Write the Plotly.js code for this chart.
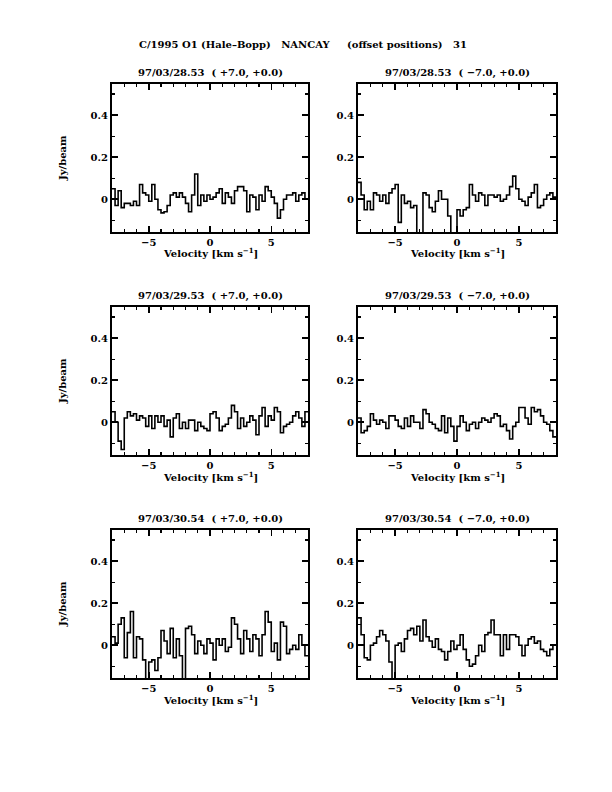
<!DOCTYPE html>
<html>
<head>
<meta charset="utf-8">
<script src="https://cdn.plot.ly/plotly-3.0.1.min.js"></script>
<style>html,body{margin:0;padding:0;background:#fff;}#chart{width:612px;height:792px;}</style>
</head>
<body>
<div id="chart"></div>
<script>
// ---- data (Jy/beam per 0.25 km/s channel, from -8 to +8 km/s) ----
const channelStart = -8;
const channelWidth = 0.25;

const mainTitle = "C/1995 O1 (Hale\u2013Bopp)\u00a0\u00a0\u00a0NANCAY\u00a0\u00a0\u00a0\u00a0\u00a0(offset positions)\u00a0\u00a0\u00a031";
const panelTitles = [
  "97/03/28.53\u00a0\u00a0( +7.0, +0.0)",
  "97/03/28.53\u00a0\u00a0( \u22127.0, +0.0)",
  "97/03/29.53\u00a0\u00a0( +7.0, +0.0)",
  "97/03/29.53\u00a0\u00a0( \u22127.0, +0.0)",
  "97/03/30.54\u00a0\u00a0( +7.0, +0.0)",
  "97/03/30.54\u00a0\u00a0( \u22127.0, +0.0)"
];

const spec2853p = [0.05,-0.03,0.04,-0.04,-0.02,-0.02,-0.03,-0.01,-0.03,0.07,0.03,0.02,-0.01,0.07,0.0,-0.05,
  -0.065,-0.06,-0.03,0.02,0.03,0.01,0.03,0.01,-0.02,-0.06,0.02,0.12,-0.03,0.02,-0.01,0.02,
  0.0,0.01,0.03,0.05,-0.02,0.03,0.01,-0.02,0.04,0.06,0.06,0.04,-0.06,0.02,0.01,-0.05,
  0.02,-0.01,0.06,0.04,0.01,-0.02,-0.09,-0.05,0.0,0.02,0.02,0.03,-0.01,0.02,0.03,0.0];
const spec2853m = [0.08,0.02,-0.05,-0.01,-0.05,0.03,0.02,-0.01,0.02,-0.02,0.03,0.05,0.07,-0.11,0.02,-0.02,
  -0.01,-0.04,-0.03,-0.16,-0.16,0.03,0.02,-0.04,-0.06,-0.01,0.04,0.0,0.0,-0.08,-0.16,-0.16,
  -0.05,-0.08,-0.05,-0.04,0.07,0.02,-0.01,0.03,0.02,-0.03,0.02,0.02,0.01,0.02,-0.01,0.0,
  0.02,0.06,0.11,0.05,0.0,-0.01,-0.03,0.01,0.03,0.07,-0.04,-0.03,0.0,0.02,0.03,0.01];
const spec2953p = [0.05,0.0,-0.09,-0.13,0.02,0.05,0.03,0.04,0.01,0.03,0.02,-0.02,0.03,-0.03,0.03,0.0,
  0.03,-0.02,0.01,-0.07,0.02,0.04,-0.03,0.0,-0.03,0.01,0.01,-0.04,0.0,-0.02,-0.03,-0.04,
  0.04,0.05,0.02,-0.04,-0.02,-0.01,0.02,0.08,0.05,-0.03,0.02,-0.02,0.0,0.03,0.01,-0.06,
  0.03,0.07,-0.02,0.03,0.01,0.07,0.05,-0.05,-0.02,-0.01,0.0,0.03,0.05,0.02,-0.02,0.05];
const spec2953m = [0.02,-0.05,-0.04,-0.02,0.04,0.01,-0.01,0.01,0.0,-0.03,0.03,0.03,0.01,-0.02,-0.03,0.02,
  -0.02,0.03,0.0,0.0,-0.03,0.06,0.04,0.0,-0.01,-0.03,-0.04,0.03,-0.05,0.02,-0.02,-0.09,
  -0.02,0.03,0.0,-0.04,-0.01,0.0,-0.03,0.0,0.02,0.01,0.0,0.02,0.04,0.03,-0.02,-0.01,
  -0.04,-0.08,-0.02,0.0,0.07,0.07,0.02,-0.01,0.07,0.05,0.06,0.03,0.0,-0.01,-0.04,-0.07];
const spec3054p = [0.04,0.01,0.1,0.13,-0.06,0.06,0.16,-0.06,0.04,0.03,-0.07,-0.16,-0.08,-0.07,-0.12,-0.06,
  0.07,0.02,-0.04,0.08,-0.06,0.03,-0.05,-0.16,0.08,0.09,0.05,-0.04,0.02,0.0,-0.04,0.03,
  0.01,-0.07,0.03,0.0,0.03,-0.03,-0.01,0.13,0.1,0.03,-0.04,0.07,0.03,-0.03,0.05,0.03,
  -0.05,0.05,0.16,0.11,-0.03,0.01,-0.07,0.11,0.09,-0.04,-0.02,0.0,-0.02,0.05,0.0,-0.05];
const spec3054m = [0.13,0.05,-0.06,-0.07,0.0,0.01,0.04,0.07,0.05,0.02,-0.08,-0.16,0.0,0.01,-0.03,0.03,
  0.07,0.08,0.05,0.09,0.02,0.12,0.04,0.02,-0.01,0.03,-0.02,-0.03,-0.07,-0.03,0.02,-0.02,
  0.0,0.05,-0.02,-0.07,-0.10,-0.09,-0.05,0.0,-0.03,0.05,0.06,0.12,0.05,0.05,-0.05,0.05,
  -0.02,0.05,0.05,0.04,0.0,-0.05,0.0,0.03,0.04,0.01,0.02,-0.02,-0.03,-0.05,-0.02,0.0];

const spectra = [spec2853p, spec2853m, spec2953p, spec2953m, spec3054p, spec3054m];

const xTickVals = [-5, 0, 5];
const xTickText = ["\u22125", "0", "5"];
const yTickVals = [0, 0.2, 0.4];
const yTickText = ["0", "0.2", "0.4"];
const xLabel = "Velocity [km s<sup>\u22121</sup>]";
const yLabel = "Jy/beam";

// ---- layout geometry (paper fractions) ----
const W = 612, H = 792;
const colPx = [[112, 308], [358, 556]];
const rowPx = [[84, 232], [307, 455], [530, 678]];
const FONT = "DejaVu Serif, Liberation Serif, serif";
const FS = 10;

const traces = [];
const layout = {
  width: W, height: H,
  margin: {l: 0, r: 0, t: 0, b: 0},
  paper_bgcolor: "#fff", plot_bgcolor: "#fff",
  showlegend: false,
  font: {family: FONT, size: FS, color: "#000", weight: "bold"},
  annotations: []
};

layout.annotations.push({
  text: mainTitle, xref: "paper", yref: "paper", x: 303 / W, y: 1 - 44 / H,
  xanchor: "center", yanchor: "middle", showarrow: false,
  font: {family: FONT, size: FS, color: "#000", weight: "bold"}
});

spectra.forEach((vals, i) => {
  const r = Math.floor(i / 2), c = i % 2;
  const n = i + 1;
  const xs = [], ys = [];
  for (let k = 0; k <= vals.length; k++) {
    xs.push(channelStart + k * channelWidth);
    ys.push(vals[Math.min(k, vals.length - 1)]);
  }
  const xa = "x" + (n === 1 ? "" : n), ya = "y" + (n === 1 ? "" : n);
  traces.push({
    x: xs, y: ys, type: "scatter", mode: "lines",
    line: {shape: "hv", color: "#000", width: 1.6},
    xaxis: xa, yaxis: ya, hoverinfo: "skip"
  });
  const xd = [colPx[c][0] / W, colPx[c][1] / W];
  const yd = [1 - rowPx[r][1] / H, 1 - rowPx[r][0] / H];
  const axBase = {
    showline: true, linecolor: "#000", linewidth: 2, mirror: "allticks",
    ticks: "inside", ticklen: 6, tickwidth: 1.5, tickcolor: "#000",
    showgrid: false, zeroline: false, fixedrange: true,
    tickfont: {family: FONT, size: FS, color: "#000", weight: "bold"},
    minor: {ticks: "inside", ticklen: 3, tickwidth: 1.2, tickcolor: "#000", showgrid: false}
  };
  layout["xaxis" + (n === 1 ? "" : n)] = Object.assign({}, axBase, {
    domain: xd, anchor: ya, range: [-8, 8],
    tickmode: "array", tickvals: xTickVals, ticktext: xTickText,
    minor: Object.assign({}, axBase.minor, {dtick: 1, tick0: 0})
  });
  layout["yaxis" + (n === 1 ? "" : n)] = Object.assign({}, axBase, {
    domain: yd, anchor: xa, range: [-0.156, 0.548],
    tickmode: "array", tickvals: yTickVals, ticktext: yTickText,
    minor: Object.assign({}, axBase.minor, {dtick: 0.1, tick0: 0})
  });
  const cx = (colPx[c][0] + colPx[c][1]) / 2;
  layout.annotations.push({
    text: panelTitles[i], xref: "paper", yref: "paper",
    x: cx / W, y: 1 - (rowPx[r][0] - 11) / H,
    xanchor: "center", yanchor: "middle", showarrow: false,
    font: {family: FONT, size: FS, color: "#000", weight: "bold"}
  });
  layout.annotations.push({
    text: xLabel, xref: "paper", yref: "paper",
    x: cx / W, y: 1 - (rowPx[r][1] + 21) / H,
    xanchor: "center", yanchor: "middle", showarrow: false,
    font: {family: FONT, size: FS, color: "#000", weight: "bold"}
  });
  if (c === 0) {
    layout.annotations.push({
      text: yLabel, xref: "paper", yref: "paper", textangle: -90,
      x: 62 / W, y: 1 - ((rowPx[r][0] + rowPx[r][1]) / 2) / H,
      xanchor: "center", yanchor: "middle", showarrow: false,
      font: {family: FONT, size: FS, color: "#000", weight: "bold"}
    });
  }
});

Plotly.newPlot("chart", traces, layout, {staticPlot: true, displayModeBar: false});
</script>
</body>
</html>
